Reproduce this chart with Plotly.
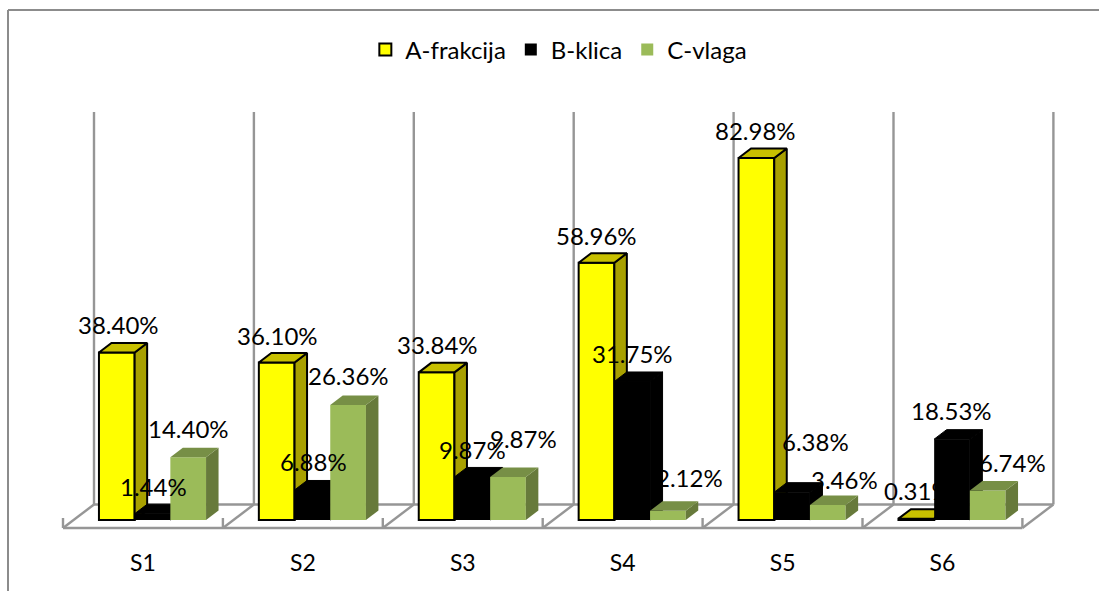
import plotly.graph_objects as go

CATEGORIES = ["S1", "S2", "S3", "S4", "S5", "S6"]
A_FRAKCIJA = [38.40, 36.10, 33.84, 58.96, 82.98, 0.31]
B_KLICA = [1.44, 6.88, 9.87, 31.75, 6.38, 18.53]
C_VLAGA = [14.40, 26.36, 9.87, 2.12, 3.46, 6.74]
SERIES_NAMES = ["A-frakcija", "B-klica", "C-vlaga"]
SERIES_VALUES = [A_FRAKCIJA, B_KLICA, C_VLAGA]

W, H = 1099, 591
PX_PER_CAT = 159.9
PX_PER_PCT = 4.363
CAT0_PX = 152.5
BASE_PX = 520.0
BAR_W = 35.7 / PX_PER_CAT
DEPTH_X = 12.5 / PX_PER_CAT
DEPTH_Y = 9.5 / PX_PER_PCT

def px_x(p):
    return (p - CAT0_PX) / PX_PER_CAT

def px_y(p):
    return (BASE_PX - p) / PX_PER_PCT

X_RANGE = [px_x(0), px_x(W)]
Y_RANGE = [px_y(H), px_y(0)]

STYLES = [
    dict(front="#FFFF00", side="#A8A000", top="#C8C000", line="#000000", lw=2, face_lw=2),
    dict(front="#000000", side="#000000", top="#000000", line="#000000", lw=0, face_lw=1),
    dict(front="#9BBB59", side="#677A3B", top="#778F46", line="#9BBB59", lw=0, face_lw=0),
]
# label offsets from the top of each bar's front face, in pixels
LABEL_DX = [
    [1.5, 0.5, 0.5, 0, -0.5, 1.5],
    [1, 1, 0, 0, 23, -1],
    [0, 0, 15, 22, 17, 25],
]
LABEL_DY = [
    [27.5, 27.5, 28, 27, 27, 28],
    [27.7, 28, 27, 27.5, 51, 29],
    [29, 29, 38, 33, 25, 28],
]

fig = go.Figure()
annotations = []
for s, (name, values, st) in enumerate(zip(SERIES_NAMES, SERIES_VALUES, STYLES)):
    ax = "" if s == 0 else str(s + 1)
    xa, ya = "x" + ax, "y" + ax
    left_off = (s - 1.5) * BAR_W
    fig.add_trace(go.Bar(
        x=list(range(len(CATEGORIES))), y=values, name=name,
        width=BAR_W, offset=left_off, xaxis=xa, yaxis=ya,
        marker=dict(color=st["front"], line=dict(color=st["line"], width=st["lw"])),
        hoverinfo="skip",
    ))
    for i, v in enumerate(values):
        l = i + left_off
        r = l + BAR_W
        line = dict(color=st["line"], width=st["face_lw"]) if st["face_lw"] else dict(width=0)
        fig.add_trace(go.Scatter(
            x=[r, r + DEPTH_X, r + DEPTH_X, r, r], y=[0, DEPTH_Y, v + DEPTH_Y, v, 0],
            mode="lines", fill="toself", fillcolor=st["side"], line=line,
            xaxis=xa, yaxis=ya, showlegend=False, hoverinfo="skip",
        ))
        fig.add_trace(go.Scatter(
            x=[l, l + DEPTH_X, r + DEPTH_X, r, l], y=[v, v + DEPTH_Y, v + DEPTH_Y, v, v],
            mode="lines", fill="toself", fillcolor=st["top"], line=line,
            xaxis=xa, yaxis=ya, showlegend=False, hoverinfo="skip",
        ))
        annotations.append(dict(
            x=l + BAR_W / 2, y=v, xref=xa, yref=ya, text=f"{v:.2f}%", showarrow=False,
            xshift=LABEL_DX[s][i], yshift=LABEL_DY[s][i],
            font=dict(family="Lato", size=24, color="#000000"),
        ))

GRID = "#969696"
shapes = []
def seg(x0, y0, x1, y1, w=2.4):
    shapes.append(dict(type="line", xref="x", yref="y", x0=x0, y0=y0, x1=x1, y1=y1,
                       line=dict(color=GRID, width=w), layer="below"))

n = len(CATEGORIES)
front0 = px_x(63)
wall0 = px_x(94)
floor_front = px_y(528)
floor_back = px_y(504.5)
tick_top = px_y(518)
wall_top = px_y(112)
seg(front0, floor_front, front0 + n, floor_front)
seg(wall0, floor_back, wall0 + n, floor_back)
for k in range(n + 1):
    seg(wall0 + k, floor_back, wall0 + k, wall_top)
    seg(front0 + k, floor_front, wall0 + k, floor_back)
    seg(front0 + k, floor_front, front0 + k, tick_top)

for (x0, y0, x1, y1) in [(8, 10, W, 10), (8, 10, 8, H)]:
    shapes.append(dict(type="line", xref="paper", yref="paper",
                       x0=x0 / W, x1=x1 / W, y0=1 - y0 / H, y1=1 - y1 / H,
                       line=dict(color="#8C8C8C", width=2), layer="below"))

label_offset = -9.5 / PX_PER_CAT
common_x = dict(range=X_RANGE, showgrid=False, zeroline=False, showline=False, fixedrange=True)
common_y = dict(range=Y_RANGE, showgrid=False, zeroline=False, showline=False, fixedrange=True, visible=False)

fig.update_layout(
    width=W, height=H, margin=dict(l=0, r=0, t=0, b=0),
    paper_bgcolor="white", plot_bgcolor="rgba(0,0,0,0)",
    barmode="overlay", shapes=shapes, annotations=annotations,
    font=dict(family="Lato", size=24, color="#000000"),
    showlegend=True,
    legend=dict(orientation="h", x=0.5085, xanchor="center", y=1 - 50 / H, yanchor="middle",
                font=dict(family="Lato", size=24), bgcolor="rgba(0,0,0,0)",
                traceorder="normal"),
    xaxis=dict(common_x, tickmode="array",
               tickvals=[i + label_offset for i in range(n)], ticktext=CATEGORIES,
               tickfont=dict(family="Lato", size=23), ticks="",
               anchor="free", position=(H - 547) / H),
    yaxis=dict(common_y),
    xaxis2=dict(common_x, overlaying="x", visible=False, anchor="y2"),
    yaxis2=dict(common_y, overlaying="y", anchor="x2"),
    xaxis3=dict(common_x, overlaying="x", visible=False, anchor="y3"),
    yaxis3=dict(common_y, overlaying="y", anchor="x3"),
)
fig.write_html("out.html", post_script="document.body.style.margin='0';",
               config={"displayModeBar": False})
